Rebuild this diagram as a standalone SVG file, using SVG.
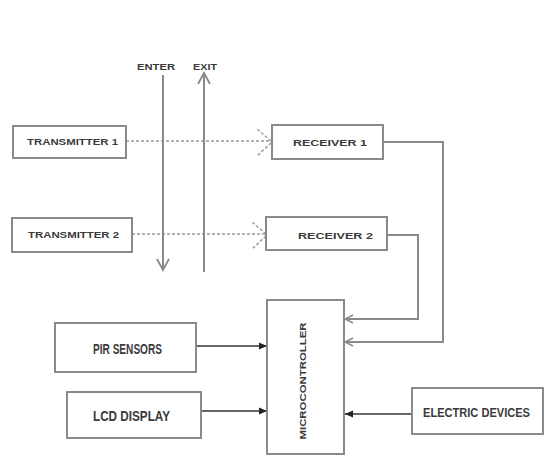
<svg xmlns="http://www.w3.org/2000/svg" width="550" height="471" viewBox="0 0 550 471">
<style>
.box{fill:#fff;stroke:#8a8a8a;stroke-width:2}
.t{font-family:"Liberation Sans",Arial,sans-serif;font-weight:bold;fill:#3a3a3a}
.s{font-size:9px}
.b{font-size:14px}
.dash{stroke:#9a9a9a;stroke-width:1.5;stroke-dasharray:3,2;fill:none}
.g{stroke:#8a8a8a;stroke-width:2;fill:none}
.k{stroke:#333;stroke-width:1.6;fill:none}
</style>
<defs>
<marker id="open" markerWidth="10" markerHeight="10" refX="9" refY="5" orient="auto" markerUnits="userSpaceOnUse">
<path d="M1,1 L9,5 L1,9" fill="none" stroke="#8a8a8a" stroke-width="1.5"/>
</marker>
<marker id="fill" markerWidth="10" markerHeight="10" refX="9" refY="5" orient="auto" markerUnits="userSpaceOnUse">
<path d="M1,1.5 L9,5 L1,8.5 Z" fill="#222"/>
</marker>
<marker id="arr" markerWidth="14" markerHeight="14" refX="12" refY="7" orient="auto" markerUnits="userSpaceOnUse">
<path d="M1,1 L12,7 L1,13" fill="none" stroke="#8a8a8a" stroke-width="1.8"/>
</marker>
</defs>

<g id="connectors">
<line class="dash" x1="126" y1="141" x2="271" y2="141"/>
<line class="dash" x1="132" y1="234" x2="266" y2="234"/>
<path class="dash" d="M271,141 L257,129 M271,143 L257,156"/>
<path class="dash" d="M266,234 L252,222 M266,236 L252,249"/>
<line class="g" x1="163" y1="75" x2="163" y2="270" marker-end="url(#arr)"/>
<line class="g" x1="204" y1="272" x2="204" y2="73" marker-end="url(#arr)"/>
<polyline class="g" points="383,142 443,142 443,342 345,342" marker-end="url(#open)"/>
<polyline class="g" points="387,235 418,235 418,319 345,319" marker-end="url(#open)"/>
<line class="k" x1="196" y1="346" x2="267" y2="346" marker-end="url(#fill)"/>
<line class="k" x1="201" y1="411" x2="267" y2="411" marker-end="url(#fill)"/>
<line class="k" x1="412" y1="414" x2="345" y2="414" marker-end="url(#fill)"/>
</g>

<g id="enter-label"><text class="t s" x="156" y="70" text-anchor="middle" textLength="38" lengthAdjust="spacingAndGlyphs">ENTER</text></g>
<g id="exit-label"><text class="t s" x="205" y="70" text-anchor="middle" textLength="24" lengthAdjust="spacingAndGlyphs">EXIT</text></g>

<g id="transmitter1">
<rect class="box" x="13" y="126" width="113" height="32"/>
<text class="t s" x="27" y="145" textLength="91" lengthAdjust="spacingAndGlyphs">TRANSMITTER 1</text>
</g>
<g id="transmitter2">
<rect class="box" x="12" y="218" width="120" height="34"/>
<text class="t s" x="28" y="238" textLength="91" lengthAdjust="spacingAndGlyphs">TRANSMITTER 2</text>
</g>
<g id="receiver1">
<rect class="box" x="272" y="125" width="111" height="34"/>
<text class="t s" x="293" y="146" textLength="74" lengthAdjust="spacingAndGlyphs">RECEIVER 1</text>
</g>
<g id="receiver2">
<rect class="box" x="266" y="217" width="121" height="33"/>
<text class="t s" x="298" y="239" textLength="75" lengthAdjust="spacingAndGlyphs">RECEIVER 2</text>
</g>
<g id="microcontroller">
<rect class="box" x="267" y="300" width="77" height="154"/>
<text class="t" font-size="9.5" transform="translate(306,381) rotate(-90)" text-anchor="middle" textLength="117" lengthAdjust="spacingAndGlyphs">MICROCONTROLLER</text>
</g>
<g id="pir">
<rect class="box" x="55" y="323" width="141" height="49"/>
<text class="t b" x="93" y="354" textLength="69" lengthAdjust="spacingAndGlyphs">PIR SENSORS</text>
</g>
<g id="lcd">
<rect class="box" x="67" y="392" width="134" height="46"/>
<text class="t" font-size="15" x="93" y="421" textLength="77" lengthAdjust="spacingAndGlyphs">LCD DISPLAY</text>
</g>
<g id="electric">
<rect class="box" x="412" y="388" width="131" height="46"/>
<text class="t" font-size="12" x="423" y="417" textLength="107" lengthAdjust="spacingAndGlyphs">ELECTRIC DEVICES</text>
</g>
</svg>
